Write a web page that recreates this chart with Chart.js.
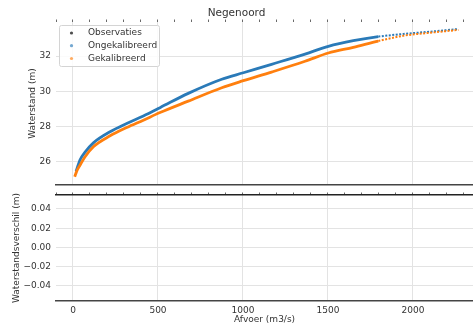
<!DOCTYPE html>
<html>
<head>
<meta charset="utf-8">
<script src="https://cdn.jsdelivr.net/npm/chart.js@4.4.1/dist/chart.umd.min.js"></script>
<style>
  html, body { margin: 0; padding: 0; background: #fff; overflow: hidden; }
  #wrap { position: relative; width: 473px; height: 325px; }
  #top { position: absolute; left: 0; top: 0; }
  #bot { position: absolute; left: 0; top: 188px; }
</style>
</head>
<body>
<div id="wrap">
  <canvas id="top" width="473" height="188"></canvas>
  <canvas id="bot" width="473" height="137"></canvas>
</div>
<script>
// ---- data ----
const chartTitle = 'Negenoord';
const seriesLabels = ['Observaties', 'Ongekalibreerd', 'Gekalibreerd'];

const obsQ = [];
const obsH = [];

const ongekQ = [18, 41, 70, 120, 218, 316, 414, 512, 678, 875, 1002, 1168, 1365, 1502, 1649, 1796, 1943, 2100, 2267];
const ongekH = [25.45, 26.1, 26.53, 27.07, 27.7, 28.17, 28.6, 29.07, 29.88, 30.68, 31.05, 31.53, 32.11, 32.55, 32.87, 33.1, 33.25, 33.38, 33.53];

const gekQ = [10, 22, 41, 70, 120, 218, 316, 414, 512, 678, 875, 1002, 1168, 1365, 1502, 1649, 1796, 1943, 2100, 2267];
const gekH = [25.15, 25.47, 25.8, 26.27, 26.85, 27.47, 27.94, 28.36, 28.79, 29.44, 30.2, 30.6, 31.09, 31.7, 32.17, 32.49, 32.85, 33.15, 33.32, 33.48];

const diffQ = [];
const diffH = [];

const xTicks = [0, 500, 1000, 1500, 2000];
const xMinorTicks = [-100, 0, 100, 200, 300, 400, 500, 600, 700, 800, 900, 1000, 1100, 1200, 1300, 1400, 1500, 1600, 1700, 1800, 1900, 2000, 2100, 2200, 2300];
const yTopTicks = [26, 28, 30, 32];
const yBotTicks = [-0.04, -0.02, 0.00, 0.02, 0.04];

const xRange = [-100, 2353];
const yTopRange = [24.68, 33.93];
const yBotRange = [-0.0556, 0.0545];

// ---- styling ----
const FONT = 'DejaVu Sans';
const TXT = '#333333';
const GRID = '#e3e3e3';
const SPINE = '#444444';
const colObs = '#4d4d4d';
const colOngek = '#2a7ab8';
const colGek = '#ff7f0e';

function zip(xs, ys) { return xs.map((x, i) => ({ x: x, y: ys[i] })); }
function fixWidth(w) { return function (s) { s.width = w; s.paddingTop = 0; s.paddingBottom = 0; }; }
function fixHeight(h) { return function (s) { s.height = h; s.paddingLeft = 0; s.paddingRight = 0; }; }
function setTicks(arr) { return function (s) { s.ticks = arr.map(v => ({ value: v })); }; }

const sparseFrom = 1796;
function segStyle(base) {
  return {
    borderDash: ctx => (ctx.p0.parsed.x >= sparseFrom ? [2, 1.5] : undefined),
    borderWidth: ctx => (ctx.p0.parsed.x >= sparseFrom ? 2 : base)
  };
}

const legendPlugin = {
  id: 'innerLegend',
  afterDraw(chart) {
    const ctx = chart.ctx;
    const bx = 59.5, by = 25.5, bw = 100, bh = 41;
    ctx.save();
    ctx.fillStyle = 'rgba(255,255,255,0.85)';
    ctx.strokeStyle = '#d4d4d4';
    ctx.lineWidth = 1;
    ctx.beginPath();
    if (ctx.roundRect) ctx.roundRect(bx, by, bw, bh, 2); else ctx.rect(bx, by, bw, bh);
    ctx.fill();
    ctx.stroke();
    const cols = [colObs, 'rgba(42,122,184,0.65)', 'rgba(255,127,14,0.65)'];
    const rows = [33, 45.7, 58.5];
    ctx.font = '9px "' + FONT + '"';
    ctx.textBaseline = 'middle';
    ctx.textAlign = 'left';
    seriesLabels.forEach((lab, i) => {
      ctx.fillStyle = cols[i];
      ctx.beginPath();
      ctx.arc(71.5, rows[i], 1.6, 0, Math.PI * 2);
      ctx.fill();
      ctx.fillStyle = TXT;
      ctx.fillText(lab, 88, rows[i]);
    });
    ctx.restore();
  }
};

const xCommon = {
  type: 'linear',
  min: xRange[0],
  max: xRange[1],
};

// ---- top chart ----
new Chart(document.getElementById('top'), {
  type: 'scatter',
  data: {
    datasets: [
      { label: seriesLabels[0], data: zip(obsQ, obsH), backgroundColor: colObs, pointRadius: 1.5, order: 0 },
      { label: seriesLabels[1], data: zip(ongekQ, ongekH), borderColor: colOngek, backgroundColor: colOngek,
        showLine: true, borderWidth: 2.8, pointRadius: 0, cubicInterpolationMode: 'monotone', order: 2,
        segment: segStyle(2.8) },
      { label: seriesLabels[2], data: zip(gekQ, gekH), borderColor: colGek, backgroundColor: colGek,
        showLine: true, borderWidth: 2.8, pointRadius: 0, cubicInterpolationMode: 'monotone', order: 1,
        segment: segStyle(2.8) }
    ]
  },
  options: {
    responsive: false,
    animation: false,
    layout: { padding: { top: 0, bottom: 3, left: 0, right: 0 } },
    plugins: {
      legend: { display: false },
      tooltip: { enabled: false },
      title: {
        display: true, text: chartTitle, color: TXT,
        font: { family: FONT, size: 10.5, weight: 'normal' },
        padding: { top: 7.4, bottom: 2 }
      }
    },
    scales: {
      x: Object.assign({}, xCommon, {
        position: 'bottom',
        afterBuildTicks: setTicks(xTicks),
        afterFit: fixHeight(0),
        ticks: { display: false },
        grid: { color: GRID, lineWidth: 1, drawTicks: false },
        border: { display: true, color: SPINE, width: 1.5 }
      }),
      xTop: Object.assign({}, xCommon, {
        position: 'top',
        afterBuildTicks: setTicks(xMinorTicks),
        afterFit: fixHeight(0),
        ticks: { display: false },
        grid: { drawOnChartArea: false, drawTicks: true, tickLength: 2.5, color: SPINE, tickWidth: 0.8 },
        border: { display: false }
      }),
      y: {
        type: 'linear',
        min: yTopRange[0], max: yTopRange[1],
        afterBuildTicks: setTicks(yTopTicks),
        afterFit: fixWidth(56),
        ticks: { color: TXT, font: { family: FONT, size: 9 }, padding: 5, callback: v => String(v) },
        grid: { color: GRID, lineWidth: 1, drawTicks: false },
        border: { display: false },
        title: { display: true, text: 'Waterstand (m)', color: TXT, font: { family: FONT, size: 9 }, padding: { top: 27, bottom: 0 } }
      }
    }
  },
  plugins: [legendPlugin]
});

// ---- bottom chart ----
function fmtMinus(v) {
  const s = Math.abs(v).toFixed(2);
  return (v < -1e-9 ? '\u2212' : '') + s;
}

new Chart(document.getElementById('bot'), {
  type: 'scatter',
  data: {
    datasets: [
      { label: 'Verschil', data: zip(diffQ, diffH), backgroundColor: colOngek, pointRadius: 1.5 }
    ]
  },
  options: {
    responsive: false,
    animation: false,
    layout: { padding: { top: 7, bottom: 0, left: 0, right: 0 } },
    plugins: { legend: { display: false }, tooltip: { enabled: false }, title: { display: false } },
    scales: {
      x: Object.assign({}, xCommon, {
        position: 'bottom',
        afterBuildTicks: setTicks(xTicks),
        afterFit: fixHeight(24),
        ticks: { color: TXT, font: { family: FONT, size: 9 }, padding: 4, maxRotation: 0, callback: v => String(v) },
        grid: { color: GRID, lineWidth: 1, drawTicks: false },
        border: { display: true, color: SPINE, width: 1.5 },
        title: { display: true, text: 'Afvoer (m3/s)', color: TXT, font: { family: FONT, size: 9 }, padding: { top: 0, bottom: 0 } }
      }),
      xTop: Object.assign({}, xCommon, {
        position: 'top',
        afterBuildTicks: setTicks(xMinorTicks),
        afterFit: fixHeight(0),
        ticks: { display: false },
        grid: { drawOnChartArea: false, drawTicks: true, tickLength: 2.5, color: SPINE, tickWidth: 0.8 },
        border: { display: true, color: '#222222', width: 1.5 }
      }),
      y: {
        type: 'linear',
        min: yBotRange[0], max: yBotRange[1],
        afterBuildTicks: setTicks(yBotTicks),
        afterFit: fixWidth(56),
        ticks: { color: TXT, font: { family: FONT, size: 9 }, padding: 5, callback: v => fmtMinus(v) },
        grid: { color: GRID, lineWidth: 1, drawTicks: false },
        border: { display: false },
        title: { display: true, text: 'Waterstandsverschil (m)', color: TXT, font: { family: FONT, size: 9 }, padding: { top: 11, bottom: 0 } }
      }
    }
  }
});
</script>
</body>
</html>
